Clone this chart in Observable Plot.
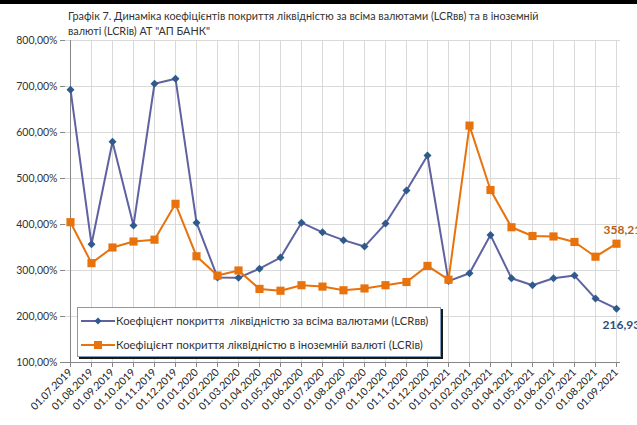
<!DOCTYPE html>
<html><head><meta charset="utf-8">
<script src="https://cdn.jsdelivr.net/npm/d3@7"></script>
<script src="https://cdn.jsdelivr.net/npm/@observablehq/plot@0.6"></script>
<style>
body{margin:0;background:#fff;font-family:Lato,"Noto Sans",sans-serif;}
#wrap{position:relative;width:637px;height:425px;overflow:hidden;}
#bar{position:absolute;left:0;top:0;width:637px;height:4px;background:#000;}
#title{position:absolute;left:68px;top:8px;font-size:10.8px;line-height:15px;color:#333;white-space:nowrap;}
#legend{position:absolute;left:77px;top:307px;width:362px;height:48px;border:1px solid #7f9db9;box-shadow:2px 2px 0 #1a1a1a;background:#fff;font-size:11.3px;color:#333;}
.li{position:absolute;left:0;display:flex;align-items:center;white-space:nowrap;}
.li svg{margin-left:3px;margin-right:1px;}
</style></head>
<body><div id="wrap"><div id="bar"></div>
<div id="title">Графік 7. Динаміка коефіцієнтів покриття ліквідністю за всіма валютами (LCRвв) та в іноземній<br>валюті (LCRів) АТ "АП БАНК"</div>
<div id="chart"></div>
<div id="legend">
<div class="li" style="top:6px"><svg width="34" height="12"><line x1="0" y1="6" x2="34" y2="6" stroke="#5f62a0" stroke-width="2"/><path d="M17,2.5 L20.5,6 L17,9.5 L13.5,6Z" fill="#2e5a8c"/></svg><span>Коефіцієнт покриття&nbsp; ліквідністю за всіма валютами (LCRвв)</span></div>
<div class="li" style="top:30px"><svg width="34" height="12"><line x1="0" y1="6" x2="34" y2="6" stroke="#e8720c" stroke-width="2"/><rect x="13" y="2" width="8" height="8" fill="#e8720c"/></svg><span>Коефіцієнт покриття ліквідністю в іноземній валюті (LCRів)</span></div>
</div>
</div>
<script>
const dates = ["01.07.2019","01.08.2019","01.09.2019","01.10.2019","01.11.2019","01.12.2019","01.01.2020","01.02.2020","01.03.2020","01.04.2020","01.05.2020","01.06.2020","01.07.2020","01.08.2020","01.09.2020","01.10.2020","01.11.2020","01.12.2020","01.01.2021","01.02.2021","01.03.2021","01.04.2021","01.05.2021","01.06.2021","01.07.2021","01.08.2021","01.09.2021"];
const lcrAll = [693,357,580,398,706,717,404,285,284,304,328,404,383,366,352,402,474,550,277,294,377,283,268,283,289,239,216.93];
const lcrFx = [405,316,350,363,367,445,331,289,300,260,256,268,265,257,261,268,275,310,280,615,475,394,375,374,362,330,358.21];
const yTicks = [100,200,300,400,500,600,700,800];

const all = dates.map((d,i)=>({d, v:lcrAll[i]}));
const fx = dates.map((d,i)=>({d, v:lcrFx[i]}));
const fmt = v => v.toFixed(2).replace(".",",") + "%";
const lastAll = all[all.length-1], lastFx = fx[fx.length-1];

const plot = Plot.plot({
  width:637, height:425,
  marginLeft:65, marginRight:17, marginTop:40, marginBottom:63,
  style:{fontFamily:"Lato, 'Noto Sans', sans-serif", fontSize:"10px", color:"#333", background:"transparent"},
  x:{type:"point", domain:dates, padding:0, label:null},
  y:{domain:[100,800], label:null},
  marks:[
    Plot.gridX(dates,{stroke:"#d9d9d9", strokeOpacity:1}),
    Plot.gridY(yTicks,{stroke:"#d9d9d9", strokeOpacity:1}),
    Plot.ruleX([dates[0]],{stroke:"#868686"}),
    Plot.ruleY([100],{stroke:"#868686"}),
    Plot.axisY(yTicks,{tickFormat:fmt, tickSize:5, tickPadding:3, stroke:"#868686", fill:"#333", fontSize:10.5}),
    Plot.axisX(dates,{tickRotate:-45, tickSize:5, tickPadding:3, stroke:"#868686", fill:"#222", fontSize:10.5}),
    Plot.line(all,{x:"d", y:"v", stroke:"#5f62a0", strokeWidth:2}),
    Plot.line(fx,{x:"d", y:"v", stroke:"#e8720c", strokeWidth:2}),
    Plot.dot(all,{x:"d", y:"v", symbol:d3.symbolDiamond2, r:3.6, fill:"#2e5a8c", stroke:null}),
    Plot.dot(fx,{x:"d", y:"v", symbol:"square", r:4.6, fill:"#e8720c"}),
    Plot.text([lastAll],{x:"d", y:"v", text:d=>fmt(d.v), dy:16, dx:-14, textAnchor:"start", fill:"#2f4b7c", fontWeight:"bold", fontSize:12}),
    Plot.text([lastFx],{x:"d", y:"v", text:d=>fmt(d.v), dy:-14, dx:-13, textAnchor:"start", fill:"#b5621a", fontWeight:"bold", fontSize:12})
  ]
});
document.getElementById("chart").appendChild(plot);
</script></body></html>
